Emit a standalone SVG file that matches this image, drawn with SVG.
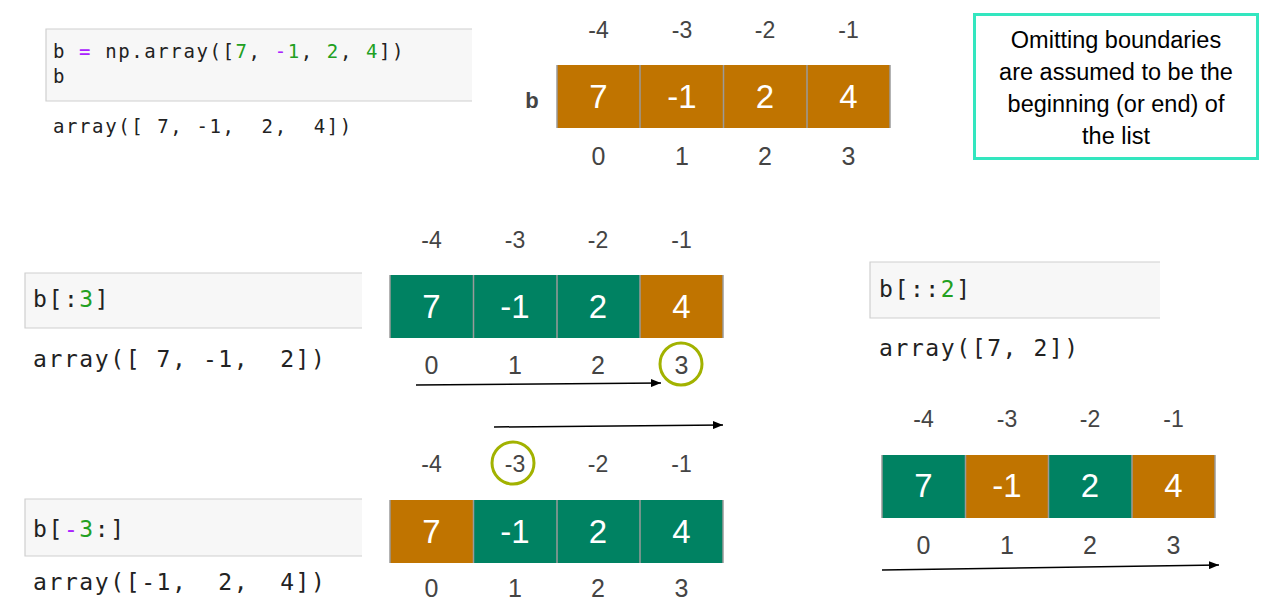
<svg xmlns="http://www.w3.org/2000/svg" width="1273" height="604" viewBox="0 0 1273 604">
<style>
.bg{fill:#fff}
.cellO{fill:#C07400}
.cellG{fill:#008262}
.div{stroke:#9a9a9a;stroke-width:1.5}
.val{font-family:"Liberation Sans",Arial,sans-serif;font-size:33px;fill:#fff;text-anchor:middle}
.top{font-family:"Liberation Sans",Arial,sans-serif;font-size:23px;fill:#444;text-anchor:middle}
.bot{font-family:"Liberation Sans",Arial,sans-serif;font-size:25px;fill:#444;text-anchor:middle}
.codebox{fill:#f7f7f7}
.codeborder{fill:none;stroke:#cfcfcf;stroke-width:1.2}
.code1{font-family:"DejaVu Sans Mono","Liberation Mono",monospace;font-size:19px;letter-spacing:1.6px;fill:#222;white-space:pre}
.code2{font-family:"DejaVu Sans Mono","Liberation Mono",monospace;font-size:23px;letter-spacing:1.6px;fill:#222;white-space:pre}
.num{fill:#22A022}
.op{fill:#AA22FF}
.ring{fill:none;stroke:#A2B200;stroke-width:3}
.arrow{stroke:#000;stroke-width:1.5;fill:none;marker-end:url(#ah)}
.note{font-family:"Liberation Sans",Arial,sans-serif;font-size:23.5px;fill:#000;text-anchor:middle}
</style>
<defs>
<marker id="ah" viewBox="0 0 10 8" refX="10" refY="4" markerWidth="10" markerHeight="8" markerUnits="userSpaceOnUse" orient="auto">
<path d="M0,0 L10,4 L0,8 Z" fill="#000"/>
</marker>
</defs>
<rect class="bg" x="0" y="0" width="1273" height="604"/>

<!-- top code cell -->
<g id="code-top">
<rect class="codebox" x="46" y="29" width="426" height="72"/>
<path class="codeborder" d="M472,29 H46 V101 H472"/>
<text class="code1" x="53" y="58" xml:space="preserve">b <tspan class="op">=</tspan> np.array([<tspan class="num">7</tspan>, <tspan class="op">-</tspan><tspan class="num">1</tspan>, <tspan class="num">2</tspan>, <tspan class="num">4</tspan>])</text>
<text class="code1" x="53" y="83">b</text>
<text class="code1" x="53" y="133" xml:space="preserve">array([ 7, -1,  2,  4])</text>
</g>

<!-- top array -->
<g id="array-b">
<text x="532" y="108" font-family="Liberation Sans,Arial,sans-serif" font-size="22" font-weight="bold" fill="#444" text-anchor="middle">b</text>
<rect class="cellO" x="557" y="65" width="333" height="63"/>
<g class="div"><line x1="557" y1="65" x2="557" y2="128"/><line x1="640" y1="65" x2="640" y2="128"/><line x1="723.5" y1="65" x2="723.5" y2="128"/><line x1="807" y1="65" x2="807" y2="128"/><line x1="890" y1="65" x2="890" y2="128"/></g>
<text class="val" x="598.5" y="108">7</text><text class="val" x="682" y="108">-1</text><text class="val" x="765" y="108">2</text><text class="val" x="848.5" y="108">4</text>
<text class="top" x="598.5" y="38">-4</text><text class="top" x="682" y="38">-3</text><text class="top" x="765" y="38">-2</text><text class="top" x="848.5" y="38">-1</text>
<text class="bot" x="598.5" y="165">0</text><text class="bot" x="682" y="165">1</text><text class="bot" x="765" y="165">2</text><text class="bot" x="848.5" y="165">3</text>
</g>

<!-- note -->
<g id="note">
<rect x="974.5" y="14.5" width="283" height="144" fill="#fff" stroke="#33E6BF" stroke-width="3"/>
<text class="note" x="1116" y="48">Omitting boundaries</text>
<text class="note" x="1116" y="80">are assumed to be the</text>
<text class="note" x="1116" y="112">beginning (or end) of</text>
<text class="note" x="1116" y="144">the list</text>
</g>

<!-- b[:3] code -->
<g id="code-slice1">
<rect class="codebox" x="25" y="273" width="337" height="55"/>
<path class="codeborder" d="M362,273 H25 V328 H362"/>
<text class="code2" x="33" y="307">b[:<tspan class="num">3</tspan>]</text>
<text class="code2" x="33" y="367" xml:space="preserve">array([ 7, -1,  2])</text>
</g>

<!-- array row 2 -->
<g id="array-slice1">
<rect class="cellG" x="390" y="275" width="250" height="63"/>
<rect class="cellO" x="640" y="275" width="83" height="63"/>
<g class="div"><line x1="390" y1="275" x2="390" y2="338"/><line x1="473.5" y1="275" x2="473.5" y2="338"/><line x1="557" y1="275" x2="557" y2="338"/><line x1="640" y1="275" x2="640" y2="338"/><line x1="723" y1="275" x2="723" y2="338"/></g>
<text class="val" x="431.5" y="318">7</text><text class="val" x="515" y="318">-1</text><text class="val" x="598" y="318">2</text><text class="val" x="681.5" y="318">4</text>
<text class="top" x="431.5" y="248">-4</text><text class="top" x="515" y="248">-3</text><text class="top" x="598" y="248">-2</text><text class="top" x="681.5" y="248">-1</text>
<text class="bot" x="431.5" y="374">0</text><text class="bot" x="515" y="374">1</text><text class="bot" x="598" y="374">2</text><text class="bot" x="681.5" y="374">3</text>
<circle class="ring" cx="681" cy="364" r="21"/>
</g>

<!-- b[-3:] code -->
<g id="code-slice2">
<rect class="codebox" x="25" y="499" width="337" height="57"/>
<path class="codeborder" d="M362,499 H25 V556 H362"/>
<text class="code2" x="33" y="537">b[<tspan class="op">-</tspan><tspan class="num">3</tspan>:]</text>
<text class="code2" x="33" y="590" xml:space="preserve">array([-1,  2,  4])</text>
</g>

<!-- array row 3 -->
<g id="array-slice2">
<rect class="cellO" x="390" y="500" width="83.5" height="63"/>
<rect class="cellG" x="473.5" y="500" width="249.5" height="63"/>
<g class="div"><line x1="390" y1="500" x2="390" y2="563"/><line x1="473.5" y1="500" x2="473.5" y2="563"/><line x1="557" y1="500" x2="557" y2="563"/><line x1="640" y1="500" x2="640" y2="563"/><line x1="723" y1="500" x2="723" y2="563"/></g>
<text class="val" x="431.5" y="543">7</text><text class="val" x="515" y="543">-1</text><text class="val" x="598" y="543">2</text><text class="val" x="681.5" y="543">4</text>
<text class="top" x="431.5" y="472">-4</text><text class="top" x="515" y="472">-3</text><text class="top" x="598" y="472">-2</text><text class="top" x="681.5" y="472">-1</text>
<text class="bot" x="431.5" y="597">0</text><text class="bot" x="515" y="597">1</text><text class="bot" x="598" y="597">2</text><text class="bot" x="681.5" y="597">3</text>
<circle class="ring" cx="513" cy="463" r="21"/>
</g>

<!-- b[::2] code -->
<g id="code-step">
<rect class="codebox" x="870" y="262" width="290" height="56"/>
<path class="codeborder" d="M1160,262 H870 V318 H1160"/>
<text class="code2" x="879" y="297">b[::<tspan class="num">2</tspan>]</text>
<text class="code2" x="879" y="356">array([7, 2])</text>
</g>

<!-- array right -->
<g id="array-step">
<rect class="cellG" x="882" y="455" width="83.5" height="63"/>
<rect class="cellO" x="965.5" y="455" width="83" height="63"/>
<rect class="cellG" x="1048.5" y="455" width="83.5" height="63"/>
<rect class="cellO" x="1132" y="455" width="83" height="63"/>
<g class="div"><line x1="882" y1="455" x2="882" y2="518"/><line x1="965.5" y1="455" x2="965.5" y2="518"/><line x1="1048.5" y1="455" x2="1048.5" y2="518"/><line x1="1132" y1="455" x2="1132" y2="518"/><line x1="1215" y1="455" x2="1215" y2="518"/></g>
<text class="val" x="923.5" y="497">7</text><text class="val" x="1007" y="497">-1</text><text class="val" x="1090" y="497">2</text><text class="val" x="1173.5" y="497">4</text>
<text class="top" x="923.5" y="427">-4</text><text class="top" x="1007" y="427">-3</text><text class="top" x="1090" y="427">-2</text><text class="top" x="1173.5" y="427">-1</text>
<text class="bot" x="923.5" y="554">0</text><text class="bot" x="1007" y="554">1</text><text class="bot" x="1090" y="554">2</text><text class="bot" x="1173.5" y="554">3</text>
</g>

<!-- connectors -->
<g id="connectors">
<line class="arrow" x1="416" y1="385" x2="661" y2="383"/>
<line class="arrow" x1="494" y1="427" x2="723" y2="425"/>
<line class="arrow" x1="882" y1="570" x2="1219" y2="565"/>
</g>
</svg>
